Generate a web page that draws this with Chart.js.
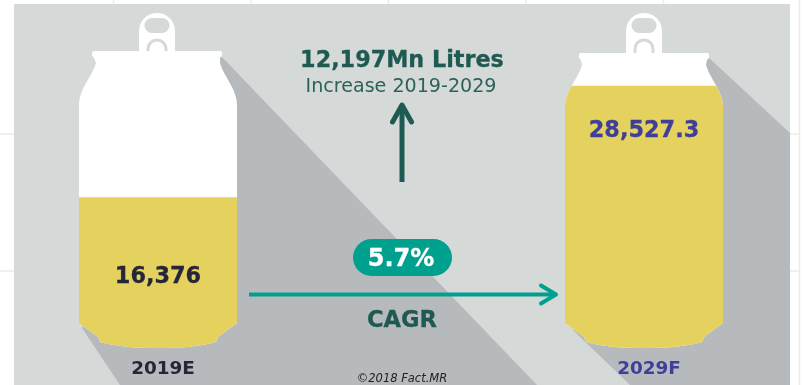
<!DOCTYPE html>
<html>
<head>
<meta charset="utf-8">
<title>Volume 2019-2029</title>
<script src="https://cdn.jsdelivr.net/npm/chart.js@4"></script>
<style>
    html, body { margin: 0; padding: 0; background: #fff; }
    canvas { display: block; }
</style>
</head>
<body>
<canvas id="can-chart" width="805" height="385"></canvas>
<script>
// volume per year, Mn litres
const years = ['2019E', '2029F'];
const volumes = [16376, 28527.3];
const yearColors = ['#26263a', '#3f3f99'];

const increaseText = '12,197Mn Litres';
const increaseSub = 'Increase 2019-2029';
const cagrValue = '5.7%';
const cagrLabel = 'CAGR';
const sourceText = '©2018 Fact.MR';

const panelColor = '#d5d9d8';
const shadowColor = '#b7babd';
const canColor = '#ffffff';
const fillColor = '#e5d15e';
const darkGreen = '#1f5a52';
const teal = '#00a08f';
const faintLine = '#ebebeb';
const fontFamily = '"DejaVu Sans", Verdana, sans-serif';

// lip height of each can and the horizontal shift of lip and tab
const canTops = [51, 53];
const canShifts = [-1, 0];

function canPath(ctx, cx, base, top, shift) {
    const lipL = cx + shift - 65;
    const lipR = cx + shift + 65;

    ctx.moveTo(lipL + 1, top);
    ctx.lineTo(lipR - 1, top);
    ctx.lineTo(lipR, top + 2);
    ctx.lineTo(lipR, top + 5);
    ctx.lineTo(lipR - 2, top + 7);
    ctx.lineTo(cx + 62, top + 12);
    // right shoulder
    ctx.bezierCurveTo(cx + 66, top + 26, cx + 79, top + 38, cx + 79, top + 54);
    ctx.lineTo(cx + 79, base - 25);
    ctx.lineTo(cx + 60, base - 11);
    ctx.lineTo(cx + 58, base - 6);
    // flat bottom
    ctx.bezierCurveTo(cx + 40, base - 1, cx + 20, base, cx, base);
    ctx.bezierCurveTo(cx - 20, base, cx - 40, base - 1, cx - 58, base - 6);
    ctx.lineTo(cx - 60, base - 11);
    ctx.lineTo(cx - 79, base - 25);
    ctx.lineTo(cx - 79, top + 54);
    // left shoulder
    ctx.bezierCurveTo(cx - 79, top + 38, cx - 66, top + 26, cx - 62, top + 12);
    ctx.lineTo(lipL + 2, top + 7);
    ctx.lineTo(lipL, top + 5);
    ctx.lineTo(lipL, top + 2);
    ctx.closePath();
}

function drawTab(ctx, cx, top) {
    ctx.fillStyle = canColor;
    ctx.beginPath();
    ctx.roundRect(cx - 18, 13, 36, top - 13 + 2, [18, 18, 0, 0]);
    ctx.fill();

    // finger hole
    ctx.fillStyle = panelColor;
    ctx.beginPath();
    ctx.roundRect(cx - 12.5, 18, 25, 15, 7.5);
    ctx.fill();

    // rivet arch
    ctx.strokeStyle = panelColor;
    ctx.lineWidth = 3;
    ctx.beginPath();
    ctx.moveTo(cx - 9, top);
    ctx.lineTo(cx - 9, 49);
    ctx.arc(cx, 49, 9, Math.PI, 0);
    ctx.lineTo(cx + 9, top);
    ctx.stroke();
}

function drawBackdrop(chart) {
    const ctx = chart.ctx;
    const meta = chart.getDatasetMeta(0);

    ctx.save();
    ctx.fillStyle = '#fff';
    ctx.fillRect(0, 0, 805, 385);

    // faint page rules around the panel
    ctx.strokeStyle = faintLine;
    ctx.lineWidth = 1.5;
    ctx.beginPath();
    [113.5, 251, 388.5, 526, 663.5].forEach(function (x) {
        ctx.moveTo(x, 0);
        ctx.lineTo(x, 4);
    });
    [134, 271].forEach(function (y) {
        ctx.moveTo(0, y);
        ctx.lineTo(14, y);
        ctx.moveTo(790, y);
        ctx.lineTo(799, y);
    });
    ctx.moveTo(799.5, 0);
    ctx.lineTo(799.5, 385);
    ctx.stroke();

    ctx.fillStyle = panelColor;
    ctx.fillRect(14, 4, 776, 381);

    // long shadows
    ctx.fillStyle = shadowColor;
    ctx.beginPath();
    ctx.moveTo(220, 55);
    ctx.lineTo(537, 385);
    ctx.lineTo(120, 385);
    ctx.lineTo(82, 328);
    ctx.closePath();
    ctx.moveTo(708, 57);
    ctx.lineTo(790, 133);
    ctx.lineTo(790, 385);
    ctx.lineTo(630, 385);
    ctx.lineTo(573, 330);
    ctx.closePath();
    ctx.fill();

    meta.data.forEach(function (bar, i) {
        drawTab(ctx, bar.x + canShifts[i], canTops[i]);
        ctx.fillStyle = canColor;
        ctx.beginPath();
        canPath(ctx, bar.x, bar.base, canTops[i], canShifts[i]);
        ctx.fill();
    });
    ctx.restore();
}

function drawArrows(ctx) {
    ctx.save();
    ctx.lineJoin = 'round';

    ctx.strokeStyle = darkGreen;
    ctx.lineWidth = 5;
    ctx.beginPath();
    ctx.moveTo(402, 182);
    ctx.lineTo(402, 106);
    ctx.stroke();
    ctx.lineCap = 'round';
    ctx.beginPath();
    ctx.moveTo(392.5, 122);
    ctx.lineTo(402, 105);
    ctx.lineTo(411.5, 122);
    ctx.stroke();

    ctx.strokeStyle = teal;
    ctx.lineWidth = 4;
    ctx.lineCap = 'butt';
    ctx.beginPath();
    ctx.moveTo(249, 294.5);
    ctx.lineTo(555, 294.5);
    ctx.stroke();
    ctx.lineCap = 'round';
    ctx.beginPath();
    ctx.moveTo(541, 285.5);
    ctx.lineTo(556, 294.5);
    ctx.lineTo(541, 303.5);
    ctx.stroke();
    ctx.restore();
}

// bold text with a thin outline, the stock bold is a little light at this size
function heavyText(ctx, text, x, y, color, size) {
    ctx.fillStyle = color;
    ctx.strokeStyle = color;
    ctx.lineWidth = 0.3;
    ctx.font = 'bold ' + size + 'px ' + fontFamily;
    ctx.fillText(text, x, y);
    ctx.strokeText(text, x, y);
}

function drawCenterText(ctx) {
    ctx.save();
    ctx.textAlign = 'center';
    ctx.textBaseline = 'alphabetic';

    heavyText(ctx, increaseText, 402, 67, darkGreen, 22.3);
    ctx.fillStyle = '#2b625b';
    ctx.font = '19.1px ' + fontFamily;
    ctx.fillText(increaseSub, 401, 92);

    // pill behind the growth rate
    ctx.fillStyle = teal;
    ctx.beginPath();
    ctx.roundRect(353, 239, 99, 37, 18.5);
    ctx.fill();
    heavyText(ctx, cagrValue, 401, 265.5, '#fff', 24);

    heavyText(ctx, cagrLabel, 402, 327, darkGreen, 22.6);

    ctx.fillStyle = '#222';
    ctx.font = 'italic 11.5px ' + fontFamily;
    ctx.fillText(sourceText, 402, 382);
    ctx.restore();
}

const canPlugin = {
    id: 'canPlugin',
    beforeDraw: drawBackdrop,
    // keep the bars inside the can outline
    beforeDatasetDraw: function (chart) {
        const ctx = chart.ctx;
        ctx.save();
        ctx.beginPath();
        chart.getDatasetMeta(0).data.forEach(function (bar, i) {
            canPath(ctx, bar.x, bar.base, canTops[i], canShifts[i]);
        });
        ctx.clip();
    },
    afterDatasetDraw: function (chart) {
        chart.ctx.restore();
    },
    afterDatasetsDraw: function (chart) {
        const ctx = chart.ctx;
        const bars = chart.getDatasetMeta(0).data;
        const labelY = [283, 137];

        ctx.save();
        ctx.textAlign = 'center';
        bars.forEach(function (bar, i) {
            heavyText(ctx, volumes[i].toLocaleString('en-US'), bar.x, labelY[i], yearColors[i], 22.4);
        });
        ctx.restore();

        drawArrows(ctx);
        drawCenterText(ctx);
    }
};

new Chart(document.getElementById('can-chart'), {
    type: 'bar',
    plugins: [canPlugin],
    data: {
        labels: years,
        datasets: [{
            data: volumes,
            backgroundColor: fillColor,
            borderWidth: 0,
            barThickness: 158,
            clip: false
        }]
    },
    options: {
        responsive: false,
        animation: false,
        events: [],
        layout: {
            padding: { left: 158, right: 161, top: 13, bottom: 0 }
        },
        plugins: {
            legend: { display: false },
            tooltip: { enabled: false }
        },
        scales: {
            x: {
                offset: false,
                grid: { display: false, drawTicks: false },
                border: { display: false },
                afterFit: function (scale) {
                    scale.height = 37;
                },
                ticks: {
                    padding: 10,
                    labelOffset: 5,
                    maxRotation: 0,
                    autoSkip: false,
                    color: yearColors,
                    font: { family: fontFamily, size: 18.4, weight: 'bold' }
                }
            },
            y: {
                display: false,
                min: 0,
                max: 36500,
                grid: { display: false }
            }
        }
    }
});
</script>
</body>
</html>
